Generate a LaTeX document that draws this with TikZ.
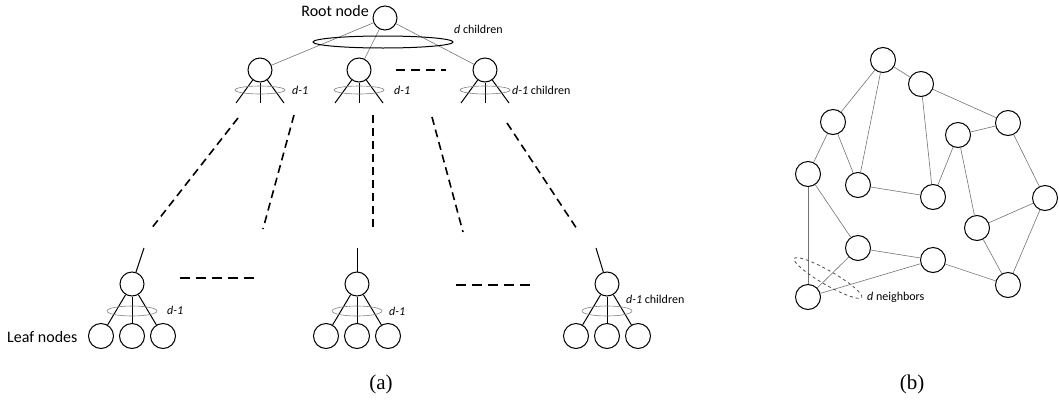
\documentclass[tikz,border=0pt]{standalone}
\usepackage{fontspec}
\setmainfont{Carlito}
\newfontfamily\capfont{Liberation Serif}
\usetikzlibrary{shapes.geometric}
\begin{document}
\begin{tikzpicture}[x=1pt,y=-1pt,
  vert/.style={circle,draw,line width=1pt,minimum size=24pt,inner sep=0pt},
  leafv/.style={circle,draw,line width=1pt,minimum size=25pt,inner sep=0pt},
  thinedge/.style={draw=black!55,line width=0.6pt},
  stem/.style={line width=1pt},
  bigdash/.style={line width=1.6pt,dash pattern=on 8pt off 5pt},
  hdash/.style={line width=1.4pt,dash pattern=on 10pt off 6pt},
  grayell/.style={ellipse,draw=black!50,line width=0.6pt,inner sep=0pt},
  biglbl/.style={inner sep=0pt,font=\fontsize{16}{19}\selectfont},
  smalllbl/.style={inner sep=0pt,anchor=west,font=\fontsize{12}{14}\selectfont},
  caplbl/.style={inner sep=0pt,font=\capfont\fontsize{21}{24}\selectfont},
]
\useasboundingbox (0,0) rectangle (1059,407);

% ---------- (a) tree ----------
\node[vert] (R) at (385,18) {};
\node[biglbl,anchor=base east] (rootlbl) at (369,16) {Root node};

\foreach \n/\x in {a/260,b/359,c/485} {
  \node[vert] (L\n) at (\x,70) {};
  \coordinate (L\n1) at (\x-24,103);
  \coordinate (L\n2) at (\x,103);
  \coordinate (L\n3) at (\x+24,103);
  \draw[stem] (L\n) -- (L\n1);
  \draw[stem] (L\n) -- (L\n2);
  \draw[stem] (L\n) -- (L\n3);
  \node[grayell,minimum width=50pt,minimum height=8pt] (E\n) at (\x,90) {};
  \draw[thinedge] (R) -- (L\n);
}
\node[ellipse,draw,line width=1pt,inner sep=0pt,minimum width=140pt,minimum height=12pt] (Eroot) at (383,42) {};
\node[smalllbl] (dch) at (454,29) {\textit{d} children};
\node[smalllbl] (da) at (292,90) {\textit{d-1}};
\node[smalllbl] (db) at (394,90) {\textit{d-1}};
\node[smalllbl] (dc) at (512,90) {\textit{d-1} children};

\coordinate (h1s) at (396,70); \coordinate (h1e) at (446,70);
\draw[line width=1.3pt,dash pattern=on 9pt off 6pt] (h1s) -- (h1e);

% long dashed connectors
\coordinate (d1s) at (238,118); \coordinate (d1e) at (151,229);
\coordinate (d2s) at (294,115); \coordinate (d2e) at (263,229);
\coordinate (d3s) at (373,115); \coordinate (d3e) at (373,227);
\coordinate (d4s) at (432,117); \coordinate (d4e) at (463,232);
\coordinate (d5s) at (507,123); \coordinate (d5e) at (577,229);
\foreach \k in {1,...,5} { \draw[bigdash] (d\k s) -- (d\k e); }

% leaf subtrees
\foreach \n/\x/\tx in {1/132/144,2/357/357,3/607/596} {
  \node[vert] (P\n) at (\x,284) {};
  \coordinate (T\n) at (\tx,248);
  \draw[stem] (T\n) -- (P\n);
  \node[leafv] (Q\n a) at (\x-31,336) {};
  \node[leafv] (Q\n b) at (\x,336) {};
  \node[leafv] (Q\n c) at (\x+31,336) {};
  \draw[stem] (P\n) -- (Q\n a);
  \draw[stem] (P\n) -- (Q\n b);
  \draw[stem] (P\n) -- (Q\n c);
  \node[grayell,minimum width=50pt,minimum height=10pt] (F\n) at (\x,311) {};
}
\node[smalllbl] (dl1) at (167,310) {\textit{d-1}};
\node[smalllbl] (dl2) at (389,311) {\textit{d-1}};
\node[smalllbl] (dl3) at (626,299) {\textit{d-1} children};
\node[biglbl,anchor=west] (leaflbl) at (7,337) {Leaf nodes};

\coordinate (h2s) at (180,278); \coordinate (h2e) at (260,278);
\coordinate (h3s) at (456,285); \coordinate (h3e) at (534,285);
\draw[hdash] (h2s) -- (h2e);
\draw[hdash] (h3s) -- (h3e);

\node[caplbl] (capa) at (381,384) {(a)};

% ---------- (b) graph ----------
\foreach \n/\x/\y in {A/883/60,B/921/84,C/833/122,D/1008/123,E/958/135,F/808/174,G/858/185,H/933/197,I/1045/198,J/977/228,K/858/248,L/933/260,M/1008/285,N/808/297} {
  \node[vert,minimum size=25pt] (\n) at (\x,\y) {};
}
\foreach \a/\b in {A/C,A/G,A/B,B/H,B/D,D/E,E/H,E/J,D/I,C/F,C/G,G/H,F/K,F/N,K/L,K/N,N/L,L/M,J/I,J/M,I/M} {
  \draw[thinedge] (\a) -- (\b);
}
\node[ellipse,draw=black!70,line width=0.8pt,dashed,inner sep=0pt,minimum width=78pt,minimum height=14pt,rotate=-30] (Eb) at (828,278) {};
\node[smalllbl] (nb) at (867,297) {\textit{d} neighbors};

\node[caplbl] (capb) at (912,384) {(b)};
\end{tikzpicture}
\end{document}
